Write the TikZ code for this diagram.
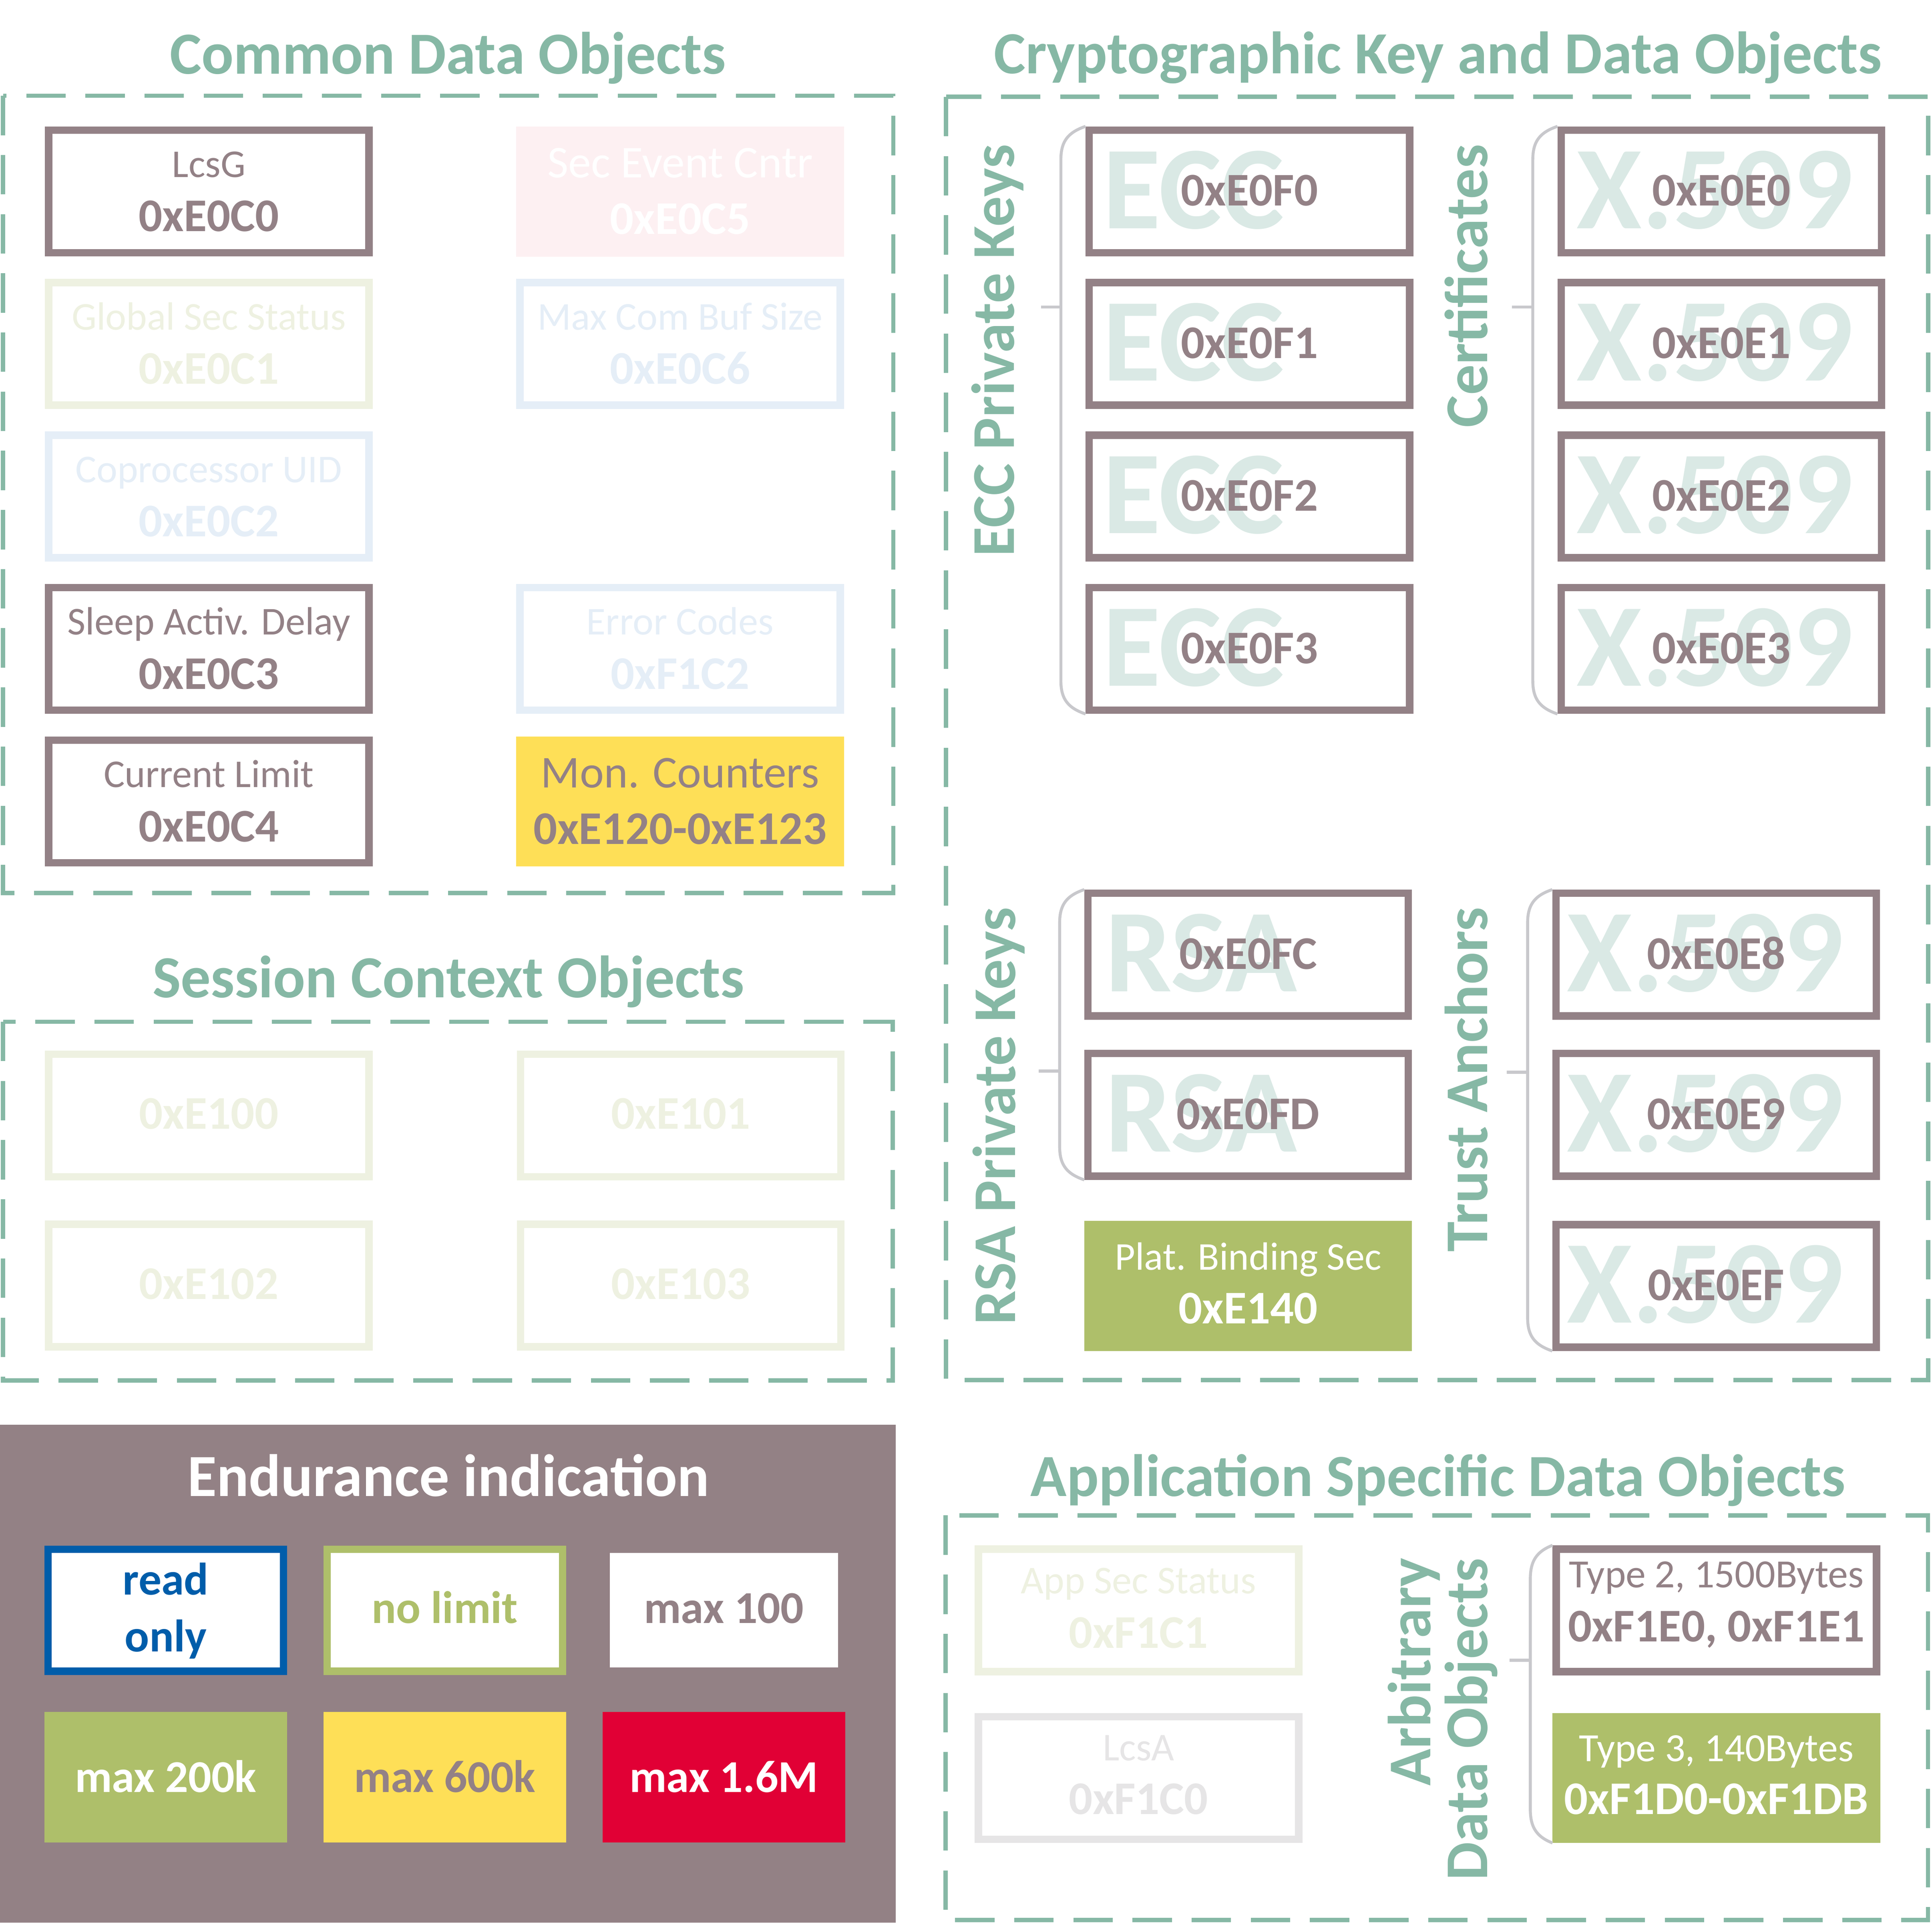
\documentclass[tikz,border=0pt]{standalone}
\usepackage{fontspec}
\setmainfont{Carlito}
\definecolor{teal1}{HTML}{86B8A5}
\definecolor{mauve}{HTML}{938186}
\definecolor{wm}{HTML}{DAE9E5}
\definecolor{lightyel}{HTML}{EEF1E1}
\definecolor{lightblue}{HTML}{E5EEF7}
\definecolor{pink1}{HTML}{FDF0F2}
\definecolor{yellow1}{HTML}{FEDF57}
\definecolor{green1}{HTML}{AEBF6A}
\definecolor{red1}{HTML}{E10035}
\definecolor{blue1}{HTML}{005DAA}
\definecolor{lgray}{HTML}{E6E5E6}
\definecolor{brk}{HTML}{C8C8CC}
\definecolor{legbg}{HTML}{938185}
\tikzset{
  every node/.style={inner sep=0pt, outer sep=0pt},
  dashbox/.style={draw=teal1, line width=3.5pt, dash pattern=on 32pt off 16pt},
  objbox/.style={draw=mauve, line width=6pt, fill=white, minimum width=260pt, minimum height=99.5pt, outer sep=3pt},
  fadeyel/.style={objbox, draw=lightyel},
  fadeblue/.style={objbox, draw=lightblue},
  fadegray/.style={objbox, draw=lgray},
  fillbox/.style={draw=none, minimum width=266pt, minimum height=105.5pt},
  pinkbox/.style={fillbox, fill=pink1},
  yellowbox/.style={fillbox, fill=yellow1},
  greenbox/.style={fillbox, fill=green1},
  wmark/.style={text=wm, font=\fontsize{96}{96}\selectfont\bfseries},
  hex/.style={text=mauve, font=\fontsize{38}{38}\selectfont\bfseries},
  bracket/.style={draw=brk, line width=2.4pt},
  title/.style={text=teal1, font=\fontsize{48.5}{48.5}\selectfont\bfseries, anchor=base},
  vlabel/.style={text=teal1, font=\fontsize{49.3}{49.3}\selectfont\bfseries, rotate=90, anchor=base east},
  legbox/.style={fill=white, line width=6pt, minimum width=191pt, minimum height=99pt},
  legfill/.style={draw=none, minimum width=197pt, minimum height=106pt},
  legtext/.style={font=\fontsize{37}{37}\selectfont\bfseries, anchor=base},
}
% two-line object box: name, (x,y), style, text colour, size of line 1, shift of line 1, shift of line 2, line 1, line 2
\newcommand\tbox[9]{%
  \node[#3] (#1) at (#2) {};
  \node[anchor=base, text=#4, font=\fontsize{#5}{#5}\selectfont] (#1-a) at ([yshift=#6pt]#1.center) {#8};
  \node[anchor=base, text=#4, font=\fontsize{38}{38}\selectfont\bfseries] (#1-b) at ([yshift=-#7pt]#1.center) {#9};
}
% key / certificate box with watermark: name, (x,y), watermark, watermark shift, hex
\newcommand\hexbox[5]{%
  \node[objbox] (#1) at (#2) {};
  \node[wmark, anchor=base west] (#1-w) at ([xshift=#4pt, yshift=-30pt]#1.center) {#3};
  \node[hex, anchor=base] (#1-h) at ([yshift=-11.7pt]#1.center) {#5};
}
\begin{document}
\begin{tikzpicture}[x=1pt, y=-1pt]
\path[fill=white, use as bounding box] (0,0) rectangle (1568,1560);

% ---------- titles ----------
\node[title] (tcommon) at (363.5,60) {Common Data Objects};
\node[title] (tcrypto) at (1167,59.5) {Cryptographic Key and Data Objects};
\node[title] (tsession) at (364,809.5) {Session Context Objects};
\node[title] (tapp) at (1167,1214) {Application Specific Data Objects};

% ---------- dashed frames ----------
\draw[dashbox] (2.5,77.7) rectangle (725,724.6);
\draw[dashbox] (767.8,78.6) rectangle (1565,1119.7);
\draw[dashbox] (2.5,829) rectangle (724.6,1120);
\draw[dashbox] (767.3,1229.5) rectangle (1564.7,1557.7);

% ---------- common data objects ----------
\tbox{lcsg}{169.5,155.3}{objbox}{mauve}{32}{11.5}{32.5}{LcsG}{0xE0C0}
\tbox{gss}{169.5,279}{fadeyel}{lightyel}{32}{11.5}{32.5}{Global Sec Status}{0xE0C1}
\tbox{cuid}{169.5,402.8}{fadeblue}{lightblue}{32}{11.5}{32.5}{Coprocessor UID}{0xE0C2}
\tbox{sad}{169.5,526.5}{objbox}{mauve}{32}{11.5}{32.5}{Sleep Activ. Delay}{0xE0C3}
\tbox{cl}{169.5,650.3}{objbox}{mauve}{32}{11.5}{32.5}{Current Limit}{0xE0C4}
\tbox{sec}{552,155.5}{pinkbox}{white}{37}{11.3}{34.5}{Sec Event Cntr}{0xE0C5}
\tbox{mcb}{552,279}{fadeblue}{lightblue}{32}{11.5}{32.5}{Max Com Buf Size}{0xE0C6}
\tbox{err}{552,526.5}{fadeblue}{lightblue}{32}{11.5}{32.5}{Error Codes}{0xF1C2}
\tbox{mon}{552,650.3}{yellowbox}{mauve}{37}{11.3}{34.5}{Mon. Counters}{0xE120-0xE123}

% ---------- session context objects ----------
\node[fadeyel] (s0) at (169.5,905) {};
\node[hex, text=lightyel, anchor=base] (s0-h) at ([yshift=-11pt]s0.center) {0xE100};
\node[fadeyel] (s1) at (552.5,905) {};
\node[hex, text=lightyel, anchor=base] (s1-h) at ([yshift=-11pt]s1.center) {0xE101};
\node[fadeyel] (s2) at (169.5,1043) {};
\node[hex, text=lightyel, anchor=base] (s2-h) at ([yshift=-11pt]s2.center) {0xE102};
\node[fadeyel] (s3) at (552.5,1043) {};
\node[hex, text=lightyel, anchor=base] (s3-h) at ([yshift=-11pt]s3.center) {0xE103};

% ---------- cryptographic keys ----------
\hexbox{e0}{1014,155.3}{ECC}{-119}{0xE0F0}
\hexbox{e1}{1014,279}{ECC}{-119}{0xE0F1}
\hexbox{e2}{1014,402.8}{ECC}{-119}{0xE0F2}
\hexbox{e3}{1014,526.5}{ECC}{-119}{0xE0F3}
\hexbox{c0}{1397,155.3}{X.509}{-117.5}{0xE0E0}
\hexbox{c1}{1397,279}{X.509}{-117.5}{0xE0E1}
\hexbox{c2}{1397,402.8}{X.509}{-117.5}{0xE0E2}
\hexbox{c3}{1397,526.5}{X.509}{-117.5}{0xE0E3}
\hexbox{r0}{1013,774.5}{RSA}{-116}{0xE0FC}
\hexbox{r1}{1013,904.5}{RSA}{-116}{0xE0FD}
\tbox{pbs}{1013,1043.3}{greenbox}{white}{32}{13}{30.5}{Plat. Binding Sec}{0xE140}
\hexbox{t0}{1392.8,774.5}{X.509}{-121}{0xE0E8}
\hexbox{t1}{1392.8,904.5}{X.509}{-121}{0xE0E9}
\hexbox{t2}{1392.8,1043.3}{X.509}{-121}{0xE0EF}

% ---------- application specific ----------
\tbox{ass}{924,1306.5}{fadeyel}{lightyel}{32}{13.5}{30.5}{App Sec Status}{0xF1C1}
\tbox{lcsa}{924,1442.5}{fadegray}{lgray}{32}{14}{29.5}{LcsA}{0xF1C0}
\tbox{ty2}{1393,1306.5}{objbox}{mauve}{32.5}{18.5}{25.5}{Type 2, 1500Bytes}{0xF1E0, 0xF1E1}
\tbox{ty3}{1393,1442.5}{greenbox}{white}{32.5}{13.5}{29.5}{Type 3, 140Bytes}{0xF1D0-0xF1DB}

% ---------- vertical labels ----------
\node[vlabel] (lecc) at (823,117) {ECC Private Keys};
\node[vlabel] (lcert) at (1207,117) {Certificates};
\node[vlabel] (lrsa) at (824,736) {RSA Private Keys};
\node[vlabel] (ltrust) at (1207,736) {Trust Anchors};
\node[vlabel] (larb) at (1161,1264) {Arbitrary};
\node[vlabel] (ldata) at (1207,1264) {Data Objects};

% ---------- brackets ----------
\draw[bracket] (e0.north west) .. controls +(-15,5) and +(0,-14) .. ([xshift=-20pt,yshift=-27pt]e0.north west)
   -- ([xshift=-20pt,yshift=27pt]e3.south west) .. controls +(0,14) and +(-15,-5) .. (e3.south west);
\coordinate (eT) at (845,249);
\draw[bracket] (eT) -- ++(16,0);
\draw[bracket] (c0.north west) .. controls +(-15,5) and +(0,-14) .. ([xshift=-20pt,yshift=-27pt]c0.north west)
   -- ([xshift=-20pt,yshift=27pt]c3.south west) .. controls +(0,14) and +(-15,-5) .. (c3.south west);
\coordinate (cT) at (1227,249);
\draw[bracket] (cT) -- ++(17,0);
\draw[bracket] (r0.north west) .. controls +(-15,5) and +(0,-14) .. ([xshift=-20pt,yshift=-27pt]r0.north west)
   -- ([xshift=-20pt,yshift=27pt]r1.south west) .. controls +(0,14) and +(-15,-5) .. (r1.south west);
\coordinate (rT) at (843,869);
\draw[bracket] (rT) -- ++(17,0);
\draw[bracket] (t0.north west) .. controls +(-15,5) and +(0,-14) .. ([xshift=-20pt,yshift=-27pt]t0.north west)
   -- ([xshift=-20pt,yshift=27pt]t2.south west) .. controls +(0,14) and +(-15,-5) .. (t2.south west);
\coordinate (tT) at (1223,870);
\draw[bracket] (tT) -- ++(17,0);
\draw[bracket] (ty2.north west) .. controls +(-13,5) and +(0,-14) .. ([xshift=-18pt,yshift=-27pt]ty2.north west)
   -- ([xshift=-18pt,yshift=27pt]ty3.south west) .. controls +(0,14) and +(-13,-5) .. (ty3.south west);
\coordinate (aT) at (1225,1347);
\draw[bracket] (aT) -- ++(17,0);

% ---------- endurance legend ----------
\fill[legbg] (0,1156) rectangle (727,1560);
\node[title, text=white] (tend) at (364,1214) {Endurance indication};
\node[legbox, draw=blue1] (ro) at (134.5,1306.5) {};
\node[legtext, text=blue1] (ro-a) at ([yshift=12.5pt]ro.center) {read};
\node[legtext, text=blue1] (ro-b) at ([yshift=-33.5pt]ro.center) {only};
\node[legbox, draw=green1] (nl) at (361,1306.5) {};
\node[legtext, text=green1] (nl-a) at ([yshift=-10.5pt]nl.center) {no limit};
\node[fill=white, minimum width=185pt, minimum height=93pt] (m100) at (587.5,1306.5) {};
\node[legtext, text=mauve] (m100-a) at ([yshift=-10.5pt]m100.center) {max 100};
\node[legfill, fill=green1] (m200) at (134.5,1442) {};
\node[legtext, text=white] (m200-a) at ([yshift=-12pt]m200.center) {max 200k};
\node[legfill, fill=yellow1] (m600) at (361,1442) {};
\node[legtext, text=mauve] (m600-a) at ([yshift=-12pt]m600.center) {max 600k};
\node[legfill, fill=red1] (m16) at (587.5,1442) {};
\node[legtext, text=white] (m16-a) at ([yshift=-12pt]m16.center) {max 1.6M};
\end{tikzpicture}
\end{document}
